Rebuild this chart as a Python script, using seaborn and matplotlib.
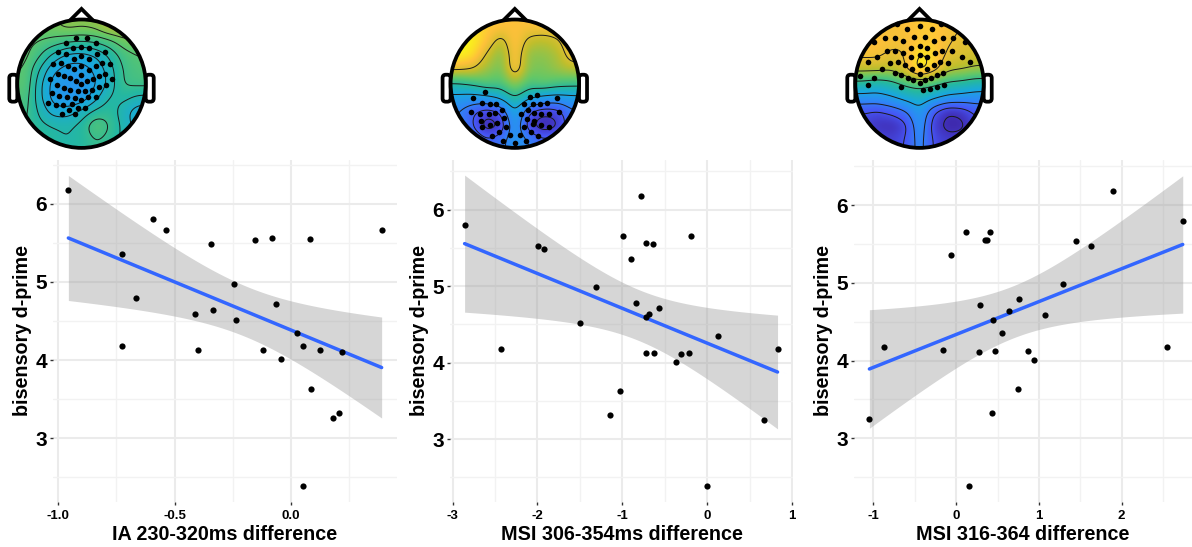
"""Bisensory d-prime against three ERP differences, with a scalp map above each panel."""

import numpy as np
import pandas as pd
import matplotlib
matplotlib.use('Agg')
import matplotlib.pyplot as plt
import seaborn as sns
from matplotlib.colors import LinearSegmentedColormap
from matplotlib.patches import Circle, FancyBboxPatch, Polygon

# d-prime per subject, in the same order in every panel
ia_x = [-0.957, -0.593, -0.539, -0.728, -0.728, -0.665, -0.414, -0.337, -0.400, -0.342, -0.244, -0.238, -0.156, -0.083,
        0.082, 0.390, -0.064, 0.027, -0.122, -0.043, 0.053, 0.126, 0.219, 0.086, 0.208, 0.182, 0.050]
ia_y = [6.18, 5.80, 5.66, 5.36, 4.18, 4.79, 4.59, 4.64, 4.13, 5.48, 4.98, 4.52, 5.54, 5.56,
        5.55, 5.66, 4.72, 4.35, 4.125, 4.01, 4.18, 4.125, 4.11, 3.63, 3.32, 3.26, 2.39]

msi1_x = [-2.858, -1.995, -1.920, -0.781, -0.993, -0.188, -0.722, -0.644, -0.903, -1.307, -0.844, -0.565, -0.691, -0.722,
          -1.504, 0.126, -2.426, 0.828, -0.718, -0.628, -0.212, -0.306, -0.365, -1.033, -1.143, 0.667, -0.008]
msi1_y = [5.80, 5.53, 5.48, 6.18, 5.66, 5.66, 5.56, 5.55, 5.36, 4.99, 4.78, 4.72, 4.64, 4.59,
          4.52, 4.35, 4.18, 4.18, 4.12, 4.12, 4.13, 4.11, 4.01, 3.63, 3.32, 3.25, 2.39]

msi2_x = [-1.048, -0.871, -0.153, -0.060, 0.117, 0.411, 0.343, 0.371, 0.294, 0.278, 0.444, 0.468, 0.435, 0.153,
          0.556, 0.641, 0.758, 0.742, 0.863, 0.944, 1.069, 1.294, 1.444, 1.633, 1.891, 2.548, 2.738]
msi2_y = [3.25, 4.18, 4.13, 5.36, 5.66, 5.66, 5.55, 5.55, 4.72, 4.11, 4.52, 4.12, 3.32, 2.39,
          4.35, 4.64, 4.79, 3.63, 4.12, 4.01, 4.59, 4.98, 5.54, 5.48, 6.18, 4.18, 5.79]

x_labels = ['IA 230-320ms difference', 'MSI 306-354ms difference', 'MSI 316-364 difference']

ia_xticks = [-1.0, -0.5, 0.0]
msi1_xticks = [-3, -2, -1, 0, 1]
msi2_xticks = [-1, 0, 1, 2]
ia_xminor = [-0.75, -0.25, 0.25]
msi1_xminor = [-2.5, -1.5, -0.5, 0.5]
msi2_xminor = [-0.5, 0.5, 1.5, 2.5]
yticks = [3, 4, 5, 6]
yminor = [2.5, 3.5, 4.5, 5.5, 6.5]

# scalp maps: colour position 0-1, rows top to bottom of the head, y and x from -0.88 to 0.88
ia_map = [
    [.64, .64, .65, .68, .67, .68, .74, .74, .70],
    [.62, .60, .58, .55, .54, .55, .58, .64, .66],
    [.62, .55, .46, .40, .39, .42, .49, .57, .60],
    [.60, .48, .37, .33, .33, .37, .45, .55, .58],
    [.60, .44, .33, .30, .30, .35, .44, .55, .56],
    [.58, .44, .33, .30, .31, .40, .49, .50, .46],
    [.56, .47, .39, .39, .44, .50, .52, .44, .38],
    [.54, .50, .48, .47, .50, .60, .54, .46, .38],
    [.54, .52, .50, .48, .50, .54, .52, .46, .42],
]
msi1_map = [
    [.96, .94, .90, .88, .87, .87, .87, .87, .86],
    [1.0, .98, .88, .74, .90, .76, .74, .78, .88],
    [.99, .94, .78, .66, .90, .68, .68, .72, .86],
    [.82, .80, .70, .64, .90, .66, .65, .70, .74],
    [.50, .54, .60, .58, .70, .58, .62, .58, .56],
    [.34, .32, .34, .40, .52, .40, .34, .32, .34],
    [.24, .15, .08, .13, .40, .13, .07, .09, .22],
    [.26, .14, .00, .05, .34, .07, .00, .03, .22],
    [.30, .24, .16, .20, .32, .24, .16, .20, .28],
]
msi2_map = [
    [.86, .86, .86, .87, .89, .89, .86, .84, .84],
    [.88, .88, .86, .85, .89, .89, .85, .82, .80],
    [.86, .86, .82, .84, .96, .92, .82, .80, .78],
    [.76, .76, .74, .83, 1.0, .90, .75, .73, .70],
    [.50, .46, .50, .58, .62, .58, .52, .50, .46],
    [.30, .30, .34, .40, .44, .38, .32, .30, .28],
    [.12, .10, .14, .20, .34, .12, .02, .05, .14],
    [.08, .03, .02, .08, .32, .06, .00, .00, .10],
    [.14, .10, .07, .12, .28, .10, .06, .08, .14],
]

ia_levels = [.36, .42, .48, .54, .60, .66]
msi1_levels = [.06, .14, .24, .38, .52, .80]
msi2_levels = [.03, .12, .22, .36, .55, .72, .84, .94]

# sensors: offset from head centre, head radius = 192
ia_sensors = [
    (-16, 137), (15, 137), (-45, 123), (44, 123), (-69, 96), (-45, 89), (-24, 106), (0, 110), (23, 106), (45, 89),
    (69, 96), (-86, 59), (-62, 63), (-23, 75), (0, 82), (23, 75), (61, 63), (86, 58), (-41, 53), (0, 54), (42, 53),
    (-22, 43), (22, 42), (-52, 23), (-71, 29), (71, 30), (52, 23), (-93, 14), (-34, 16), (0, 26), (-16, 7), (17, 8),
    (35, 15), (92, 14), (-73, -5), (-53, -12), (0, -1), (-89, -28), (-33, -18), (-11, -22), (10, -22), (32, -18),
    (52, -11), (73, -5), (-66, -36), (-44, -41), (-20, -43), (0, -50), (20, -41), (44, -41), (-99, -58), (-75, -64),
    (-54, -63), (-29, -61), (9, -72), (-10, -72), (-38, -80), (-57, -90), (-20, -91),
]
msi1_sensors = [
    (-88, -26), (-126, -44), (-98, -57), (-75, -62), (-55, -60), (-131, -84), (-38, -79), (-103, -90), (-78, -92),
    (-58, -88), (-33, -104), (-100, -111), (-74, -124), (-54, -117), (-98, -129), (-27, -130), (-68, -155), (-47, -145),
    (-34, -171), (-15, -154), (0, -176), (15, -154), (34, -171), (45, -40), (66, -34), (125, -44), (97, -57), (74, -62),
    (54, -60), (29, -60), (38, -79), (131, -84), (57, -88), (77, -92), (103, -90), (19, -90), (35, -105), (57, -111),
    (28, -130), (55, -121), (77, -124), (101, -129), (48, -145), (68, -155),
]
msi2_sensors = [
    (-66, 179), (0, 172), (65, 179), (-38, 163), (37, 163), (-137, 124), (-103, 138), (-72, 138), (-48, 127), (-17, 141),
    (15, 141), (44, 127), (71, 138), (101, 138), (135, 124), (-25, 108), (0, 114), (23, 108), (-98, 97), (-72, 97),
    (-48, 92), (45, 92), (68, 99), (96, 97), (-128, 81), (-24, 79), (0, 85), (22, 79), (126, 81), (-154, 64), (-88, 61),
    (-63, 66), (-44, 55), (0, 57), (42, 55), (61, 66), (86, 61), (152, 64), (-113, 45), (-23, 45), (22, 45), (-73, 33),
    (-54, 25), (0, 29), (52, 25), (71, 33), (-178, 24), (-136, 16), (-35, 18), (-18, 10), (0, 1), (16, 10), (33, 18),
    (-155, -3), (-55, -9), (9, -19), (32, -16), (52, -9), (72, -3),
]

parula = LinearSegmentedColormap.from_list('parula', [
    (0.00, '#3E26A8'), (0.125, '#4755F5'), (0.25, '#2E87F7'), (0.375, '#19A8DE'), (0.50, '#25B8A0'),
    (0.625, '#65C866'), (0.75, '#C0BE2C'), (0.875, '#FEC13A'), (1.00, '#F9FB15'),
])

W, H = 1192, 547


def px_axes(fig, left, top, right, bottom):
    return fig.add_axes([left / W, 1 - bottom / H, (right - left) / W, (bottom - top) / H])


def upsample(values, n=220, sigma=7):
    """Bilinear upsample of a coarse scalp grid followed by a gaussian blur."""
    grid = np.pad(np.asarray(values, dtype=float), 1, mode='edge')
    src = np.linspace(-1.1, 1.1, grid.shape[0])
    dst = np.linspace(-1.1, 1.1, n)
    rows = np.array([np.interp(dst, src, r) for r in grid])
    full = np.array([np.interp(dst, src, c) for c in rows.T]).T
    radius = int(3 * sigma)
    k = np.exp(-0.5 * (np.arange(-radius, radius + 1) / sigma) ** 2)
    k /= k.sum()
    full = np.pad(full, radius, mode='edge')
    full = np.apply_along_axis(lambda m: np.convolve(m, k, mode='same'), 0, full)
    full = np.apply_along_axis(lambda m: np.convolve(m, k, mode='same'), 1, full)
    return dst, full[radius:-radius, radius:-radius]


def draw_head(fig, cx, cy, values, levels, sensors, r=64.2):
    ax = px_axes(fig, cx - 1.3 * r, cy - 1.3 * r, cx + 1.3 * r, cy + 1.3 * r)
    ax.set_aspect('equal')
    ax.axis('off')

    outline = dict(edgecolor='black', lw=2.7)
    for side in (-1, 1):
        x0 = -1.125 if side < 0 else 1.0
        ax.add_patch(FancyBboxPatch((x0, -0.28), 0.125, 0.42, boxstyle='round,pad=0,rounding_size=0.05',
                                    facecolor='white', zorder=1, **outline))
    ax.add_patch(Polygon([(-0.19, 0.975), (0, 1.165), (0.19, 0.975)], closed=False, fill=False, zorder=1, **outline))

    disk = Circle((0, 0), 1, transform=ax.transData)
    grid, field = upsample(values)
    im = ax.imshow(field, extent=(-1.1, 1.1, -1.1, 1.1), origin='upper', cmap=parula, vmin=0, vmax=1,
                   interpolation='bilinear', zorder=2)
    im.set_clip_path(disk)
    cs = ax.contour(grid, grid[::-1], field, levels=levels, colors='#1a1a1a', linewidths=0.7, zorder=3)
    cs.set_clip_path(disk)
    ax.set_xlim(-1.3, 1.3)
    ax.set_ylim(-1.3, 1.3)
    ax.add_patch(Circle((0, 0), 1, fill=False, zorder=4, **outline))

    pts = np.array(sensors) / 192
    ax.scatter(pts[:, 0], pts[:, 1], s=16, c='black', linewidths=0, zorder=5)


def draw_panel(fig, box, x, y, xlabel, xticks, xminor, xlim, ylim):
    ax = px_axes(fig, *box)
    df = pd.DataFrame({'x': x, 'y': y})

    # 95% band of the linear fit (t quantile for 25 df)
    xs = np.linspace(df.x.min(), df.x.max(), 80)
    slope, intercept = np.polyfit(df.x, df.y, 1)
    resid = df.y - (slope * df.x + intercept)
    s2 = (resid ** 2).sum() / (len(df) - 2)
    se = np.sqrt(s2 * (1 / len(df) + (xs - df.x.mean()) ** 2 / ((df.x - df.x.mean()) ** 2).sum()))
    fit = slope * xs + intercept
    ax.fill_between(xs, fit - 2.0595 * se, fit + 2.0595 * se, color='#999999', alpha=0.4, linewidth=0, zorder=2)

    sns.regplot(data=df, x='x', y='y', scatter=False, ci=None, truncate=True, ax=ax,
                line_kws=dict(color='#3366FF', lw=2.5, zorder=3))
    sns.scatterplot(data=df, x='x', y='y', color='black', s=20, linewidth=0, ax=ax, zorder=4)

    ax.set_xlim(*xlim)
    ax.set_ylim(*ylim)
    ax.set_xticks(xticks)
    ax.set_xticklabels([f'{t:.1f}' if isinstance(t, float) else str(t) for t in xticks])
    ax.set_xticks(xminor, minor=True)
    ax.set_yticks(yticks)
    ax.set_yticks(yminor, minor=True)
    ax.grid(which='major', color='#EBEBEB', lw=1.5)
    ax.grid(which='minor', color='#F2F2F2', lw=1.0)
    ax.set_axisbelow(True)
    sns.despine(ax=ax, left=True, bottom=True)

    ax.tick_params(axis='y', which='major', left=True, length=2.4, width=1, color='#333333', labelsize=15, pad=2,
                   labelcolor='black')
    ax.tick_params(axis='x', which='major', bottom=True, length=2.4, width=1, color='#333333', labelsize=9.5, pad=3.5,
                   labelcolor='black')
    ax.tick_params(which='minor', length=0)
    for t in ax.get_xticklabels() + ax.get_yticklabels():
        t.set_fontweight('bold')
    ax.set_xlabel(xlabel, fontsize=14.2, fontweight='bold', color='black', labelpad=2)
    ax.set_ylabel('bisensory d-prime', fontsize=14.2, fontweight='bold', color='black', labelpad=2)
    return ax


sns.set_theme(style='whitegrid')
plt.rcParams['font.family'] = ['Liberation Sans', 'DejaVu Sans']

fig = plt.figure(figsize=(W / 100, H / 100), dpi=100)

draw_panel(fig, (53, 160, 397, 501.7), ia_x, ia_y, x_labels[0], ia_xticks, ia_xminor, (-1.023, 0.456), (2.19, 6.56))
draw_panel(fig, (450, 160, 793, 501.7), msi1_x, msi1_y, x_labels[1], msi1_xticks, msi1_xminor, (-3.03, 1.01), (2.18, 6.65))
draw_panel(fig, (854, 160, 1192, 501.7), msi2_x, msi2_y, x_labels[2], msi2_xticks, msi2_xminor, (-1.234, 2.85), (2.185, 6.58))

draw_head(fig, 81.5, 83.7, ia_map, ia_levels, ia_sensors)
draw_head(fig, 514.8, 83.7, msi1_map, msi1_levels, msi1_sensors)
draw_head(fig, 919.5, 83.7, msi2_map, msi2_levels, msi2_sensors)

fig.savefig('out.png', dpi=100)
